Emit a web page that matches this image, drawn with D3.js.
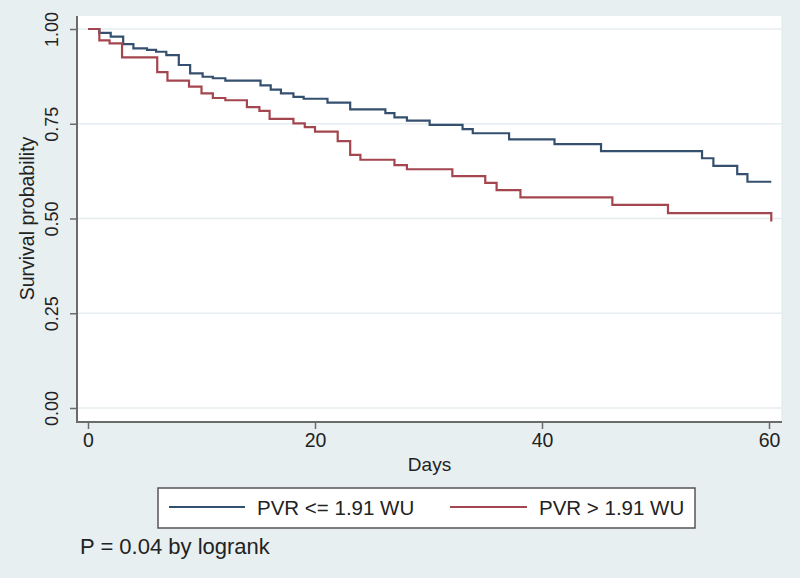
<!DOCTYPE html>
<html>
<head>
<meta charset="utf-8">
<script src="https://cdn.jsdelivr.net/npm/d3@7"></script>
<style>
  html, body { margin: 0; padding: 0; background: #e8eff1; }
  svg { display: block; }
  text { font-family: "Liberation Sans", Arial, Helvetica, sans-serif; fill: #222; }
</style>
</head>
<body>
<svg id="chart" width="800" height="578"></svg>
<script>
// ---- data ----
const groupNames = ["PVR <= 1.91 WU", "PVR > 1.91 WU"];
const lowTimes = [0, 1.0, 2.0, 3.1, 4.0, 5.2, 6.0, 6.9, 8.0, 9.0, 10.1, 11.0, 12.1, 15.2, 16.1, 17.0, 18.1, 19.0, 21.1, 23.1, 26.2, 27.0, 28.1, 30.1, 33.0, 33.9, 37.1, 41.1, 45.2, 54.1, 55.1, 57.2, 58.1, 60.2];
const lowSurv  = [1.0, 0.990, 0.980, 0.960, 0.949, 0.945, 0.940, 0.931, 0.905, 0.883, 0.874, 0.870, 0.864, 0.851, 0.840, 0.830, 0.821, 0.816, 0.806, 0.788, 0.778, 0.767, 0.758, 0.747, 0.736, 0.725, 0.709, 0.696, 0.678, 0.659, 0.639, 0.617, 0.597, 0.597];
const highTimes = [0, 1.0, 1.9, 3.0, 6.1, 7.0, 8.9, 10.0, 11.0, 12.1, 14.0, 15.1, 16.0, 18.1, 19.1, 20.0, 22.0, 23.1, 24.0, 27.0, 28.1, 32.1, 35.0, 36.0, 38.1, 46.2, 51.1, 60.2];
const highSurv  = [1.0, 0.970, 0.962, 0.925, 0.886, 0.864, 0.848, 0.830, 0.818, 0.812, 0.794, 0.784, 0.763, 0.751, 0.741, 0.729, 0.704, 0.668, 0.655, 0.641, 0.630, 0.612, 0.594, 0.575, 0.556, 0.536, 0.514, 0.492];
const xTicks = [0, 20, 40, 60];
const yTicks = [0, 0.25, 0.5, 0.75, 1.0];
const xTitle = "Days";
const yTitle = "Survival probability";
const noteText = "P = 0.04 by logrank";
const colors = ["#34506e", "#a4464f"];

// ---- layout ----
const svg = d3.select("#chart");
const W = 800, H = 578;
const plot = { left: 77, right: 782, top: 16, bottom: 422 };

svg.append("rect").attr("x", 0).attr("y", 0).attr("width", W).attr("height", H).attr("fill", "#e8eff1");
svg.append("rect").attr("x", plot.left).attr("y", plot.top)
  .attr("width", plot.right - plot.left).attr("height", plot.bottom - plot.top)
  .attr("fill", "#ffffff");
svg.append("line").attr("x1", plot.right).attr("x2", plot.right).attr("y1", plot.top).attr("y2", plot.bottom)
  .attr("stroke", "#dfe7ea").attr("stroke-width", 1);

const x = d3.scaleLinear().domain([0, 60]).range([88, 769]);
const y = d3.scaleLinear().domain([0, 1]).range([408, 29]);

// gridlines
svg.append("g").selectAll("line").data(yTicks).join("line")
  .attr("x1", plot.left).attr("x2", plot.right)
  .attr("y1", d => y(d)).attr("y2", d => y(d))
  .attr("stroke", "#e6edf0").attr("stroke-width", 1.3);

// y axis
const yAxis = svg.append("g").attr("transform", `translate(${plot.left},0)`)
  .call(d3.axisLeft(y).tickValues(yTicks).tickFormat(d3.format(".2f")).tickSize(7).tickPadding(0));
yAxis.select(".domain").remove();
yAxis.selectAll(".tick line").attr("stroke", "#6b6b6b").attr("stroke-width", 1.5);
yAxis.selectAll(".tick text")
  .attr("x", 0).attr("dy", 0)
  .attr("transform", "translate(-19,0) rotate(-90)")
  .attr("text-anchor", "middle")
  .style("font-size", "18px")
  .style("font-family", "'Liberation Sans', Arial, sans-serif")
  .attr("fill", "#222");
svg.append("line").attr("x1", plot.left).attr("x2", plot.left).attr("y1", plot.top).attr("y2", plot.bottom + 1)
  .attr("stroke", "#6b6b6b").attr("stroke-width", 2);

// x axis
const xAxis = svg.append("g").attr("transform", `translate(0,${plot.bottom})`)
  .call(d3.axisBottom(x).tickValues(xTicks).tickFormat(d3.format("d")).tickSize(7).tickPadding(4));
xAxis.select(".domain").remove();
xAxis.selectAll(".tick line").attr("stroke", "#6b6b6b").attr("stroke-width", 1.5);
xAxis.selectAll(".tick text")
  .style("font-size", "19.5px")
  .style("font-family", "'Liberation Sans', Arial, sans-serif")
  .attr("fill", "#222");
svg.append("line").attr("x1", plot.left - 1).attr("x2", plot.right).attr("y1", plot.bottom).attr("y2", plot.bottom)
  .attr("stroke", "#6b6b6b").attr("stroke-width", 2);

// axis titles
svg.append("text").attr("x", (plot.left + plot.right) / 2).attr("y", 471)
  .attr("text-anchor", "middle").style("font-size", "19px").text(xTitle);
svg.append("text").attr("transform", `translate(34,${(y(0) + y(1)) / 2}) rotate(-90)`)
  .attr("text-anchor", "middle").style("font-size", "19.5px").text(yTitle);

// survival curves
const line = d3.line().x(d => x(d[0])).y(d => y(d[1])).curve(d3.curveStepAfter);
const series = [d3.zip(lowTimes, lowSurv), d3.zip(highTimes, highSurv)];
svg.append("g").selectAll("path").data(series).join("path")
  .attr("d", line)
  .attr("fill", "none")
  .attr("stroke", (d, i) => colors[i])
  .attr("stroke-width", 2.2)
  .attr("stroke-linejoin", "miter");

// legend
const lg = svg.append("g");
lg.append("rect").attr("x", 158).attr("y", 488).attr("width", 537).attr("height", 40)
  .attr("fill", "#ffffff").attr("stroke", "#555").attr("stroke-width", 1.5);
const legendItems = [
  { name: groupNames[0], color: colors[0], x1: 169, x2: 245, tx: 257 },
  { name: groupNames[1], color: colors[1], x1: 450, x2: 527, tx: 539 }
];
legendItems.forEach(it => {
  lg.append("line").attr("x1", it.x1).attr("x2", it.x2).attr("y1", 507).attr("y2", 507)
    .attr("stroke", it.color).attr("stroke-width", 2.2);
  lg.append("text").attr("x", it.tx).attr("y", 514.5).style("font-size", "20.5px").text(it.name);
});

// note
svg.append("text").attr("x", 80).attr("y", 554).style("font-size", "22px").text(noteText);
</script>
</body>
</html>
